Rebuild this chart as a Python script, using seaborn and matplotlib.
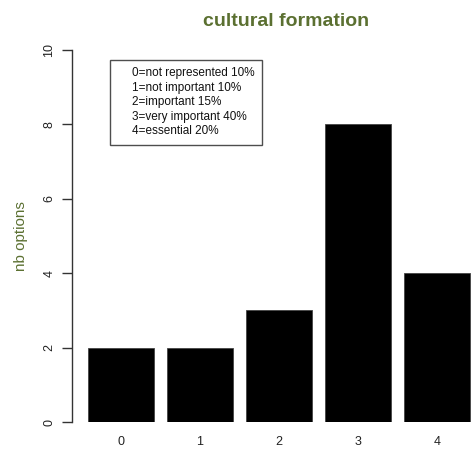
import matplotlib
matplotlib.use("Agg")
import matplotlib.pyplot as plt
import pandas as pd
import seaborn as sns
from matplotlib.lines import Line2D

CATEGORIES = ["0", "1", "2", "3", "4"]
COUNTS = [2, 2, 3, 8, 4]
LEGEND_LABELS = [
    "0=not represented 10%",
    "1=not important 10%",
    "2=important 15%",
    "3=very important 40%",
    "4=essential 20%",
]
Y_TICKS = [0, 2, 4, 6, 8, 10]

TITLE_COLOR = "#5B7031"
W, H = 473, 450

sns.set_theme(style="white")
plt.rcParams["font.family"] = ["Liberation Sans", "DejaVu Sans"]

fig = plt.figure(figsize=(W / 100, H / 100), dpi=100)
# axes in pixel terms: left 72, right 473, top 50 (y=10), bottom 422 (y=0)
ax = fig.add_axes([72 / W, (H - 422) / H, (473 - 72) / W, (422 - 50) / H])

df = pd.DataFrame({"score": CATEGORIES, "count": COUNTS})
sns.barplot(data=df, x="score", y="count", order=CATEGORIES, color="black",
            width=1 / 1.2, saturation=1, edgecolor="#444444", linewidth=0.6, ax=ax)

ax.set_xlim(-0.62, 4.456)
ax.set_ylim(0, 10)
for side in ["top", "right", "bottom"]:
    ax.spines[side].set_visible(False)
ax.spines["left"].set_color("#333333")
ax.spines["left"].set_linewidth(1.0)
ax.set_yticks(Y_TICKS)
ax.set_yticklabels([str(t) for t in Y_TICKS], rotation=90, va="center", fontsize=9, color="#222222")
ax.tick_params(axis="y", direction="out", length=7, width=1, color="#333333", pad=5, left=True)
ax.tick_params(axis="x", length=0, pad=10, labelsize=9, labelcolor="#222222")
ax.set_xlabel("")
ax.set_ylabel("nb options", color=TITLE_COLOR, fontsize=11, labelpad=11)
ax.grid(False)

fig.text(286 / W, 1 - 22 / H, "cultural formation", ha="center", va="center",
         fontsize=14, fontweight="bold", color=TITLE_COLOR)

handles = [Line2D([], [], linestyle="none") for _ in LEGEND_LABELS]
leg = ax.legend(handles, LEGEND_LABELS, loc="upper left",
                bbox_to_anchor=(110 / W, 1 - 60 / H), bbox_transform=fig.transFigure,
                frameon=True, fancybox=False, fontsize=8.5, handlelength=0.9,
                handletextpad=0.37, labelspacing=0.22, borderpad=0.6,
                borderaxespad=0)
leg.get_frame().set_edgecolor("#222222")
leg.get_frame().set_linewidth(1.0)
for t in leg.get_texts():
    t.set_color("#111111")

fig.savefig("out.png", dpi=100)
